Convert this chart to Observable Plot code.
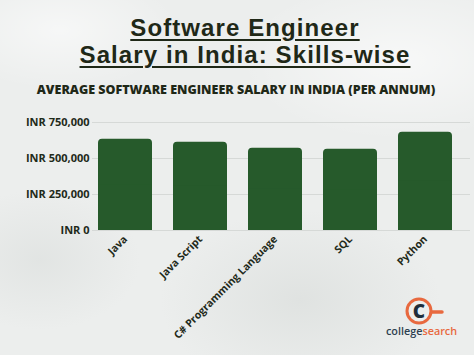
<!DOCTYPE html>
<html>
<head>
<meta charset="utf-8">
<script src="https://cdn.jsdelivr.net/npm/d3@7"></script>
<script src="https://cdn.jsdelivr.net/npm/@observablehq/plot@0.6"></script>
<style>
  html, body { margin: 0; padding: 0; }
  #page {
    position: relative; width: 474px; height: 355px; overflow: hidden;
    background:
      radial-gradient(ellipse 120px 60px at 60px 30px, rgba(255,255,255,0.55), rgba(255,255,255,0)),
      radial-gradient(ellipse 160px 80px at 400px 60px, rgba(255,255,255,0.6), rgba(255,255,255,0)),
      radial-gradient(ellipse 140px 90px at 300px 300px, rgba(200,205,202,0.35), rgba(200,205,202,0)),
      radial-gradient(ellipse 100px 70px at 40px 260px, rgba(210,214,212,0.4), rgba(210,214,212,0)),
      #eceeed;
    font-family: "Open Sans", sans-serif;
    color: #1f2a1a;
  }
  .tline {
    position: absolute; left: 0; width: 490px; text-align: center; white-space: nowrap;
    font-family: "Liberation Sans", Arial, sans-serif; font-weight: 700; font-size: 24px; line-height: 27px;
    letter-spacing: 1.1px;
    text-decoration: underline; text-decoration-thickness: 2px; text-underline-offset: 3px;
    color: #1f2817; margin: 0;
  }
  #title1 { top: 14px; }
  #title2 { top: 41px; }
  #subtitle {
    position: absolute; left: 0; top: 81px; width: 472px; text-align: center;
    font-family: "Open Sans", sans-serif; font-weight: 800; font-size: 12.5px;
    color: #1f2817; margin: 0; white-space: nowrap;
  }
  #chart { position: absolute; left: 0; top: 100px; }
  #chart svg { background: transparent; }
  #chart [aria-label="y-axis tick label"] text { font-size: 11px; }
  #chart [aria-label="x-axis tick label"] text { font-size: 10.5px; }
  #logo { position: absolute; left: 380px; top: 295px; }
</style>
</head>
<body>
<div id="page">
  <div id="title1" class="tline">Software Engineer</div>
  <div id="title2" class="tline">Salary in India: Skills-wise</div>
  <div id="subtitle">AVERAGE SOFTWARE ENGINEER SALARY IN INDIA (PER ANNUM)</div>
  <div id="chart"></div>
  <svg id="logo" width="94" height="55" viewBox="0 0 94 55">
    <line x1="48" y1="17" x2="62" y2="17" stroke="#e8693f" stroke-width="3.5" stroke-linecap="round"/>
    <circle cx="39" cy="16" r="12" fill="#eceeed" stroke="#e8693f" stroke-width="3"/>
    <text x="39" y="22.5" text-anchor="middle" font-family="Open Sans" font-weight="800" font-size="19" fill="#1e2d3a">C</text>
    <text x="6" y="40" font-family="Open Sans" font-weight="600" font-size="10.8" fill="#2d4050">college<tspan fill="#e8693f">search</tspan></text>
  </svg>
</div>
<script>
const skills = ["Java", "Java Script", "C# Programming Language", "SQL", "Python"];
const salaries = [633000, 612000, 571000, 564000, 682000];
const yTicks = [0, 250000, 500000, 750000];

const data = skills.map((s, i) => ({skill: s, salary: salaries[i]}));

const chart = Plot.plot({
  width: 474,
  height: 255,
  marginLeft: 92,
  marginRight: 4,
  marginTop: 22,
  marginBottom: 125,
  style: {fontFamily: "'Open Sans', sans-serif", fontWeight: 700, color: "#1f2a1a", background: "transparent"},
  x: {domain: skills, paddingInner: 0.285, paddingOuter: 0.146, align: 0.23, label: null},
  y: {domain: [0, 750000], label: null},
  marks: [
    Plot.ruleY(yTicks, {stroke: "#d6d9d7", strokeWidth: 1}),
    Plot.barY(data, {x: "skill", y: "salary", fill: "#265a2b", rx: 4}),
    Plot.barY(data, {x: "skill", y1: 0, y2: d => d.salary / 2, fill: "#265a2b"}),
    Plot.axisY(yTicks, {tickSize: 0, tickPadding: 3, tickFormat: d => "INR " + d3.format(",")(d), label: null}),
    Plot.axisX({tickSize: 0, tickPadding: 7, tickRotate: -45, label: null})
  ]
});
document.getElementById("chart").appendChild(chart);
</script>
</body>
</html>
